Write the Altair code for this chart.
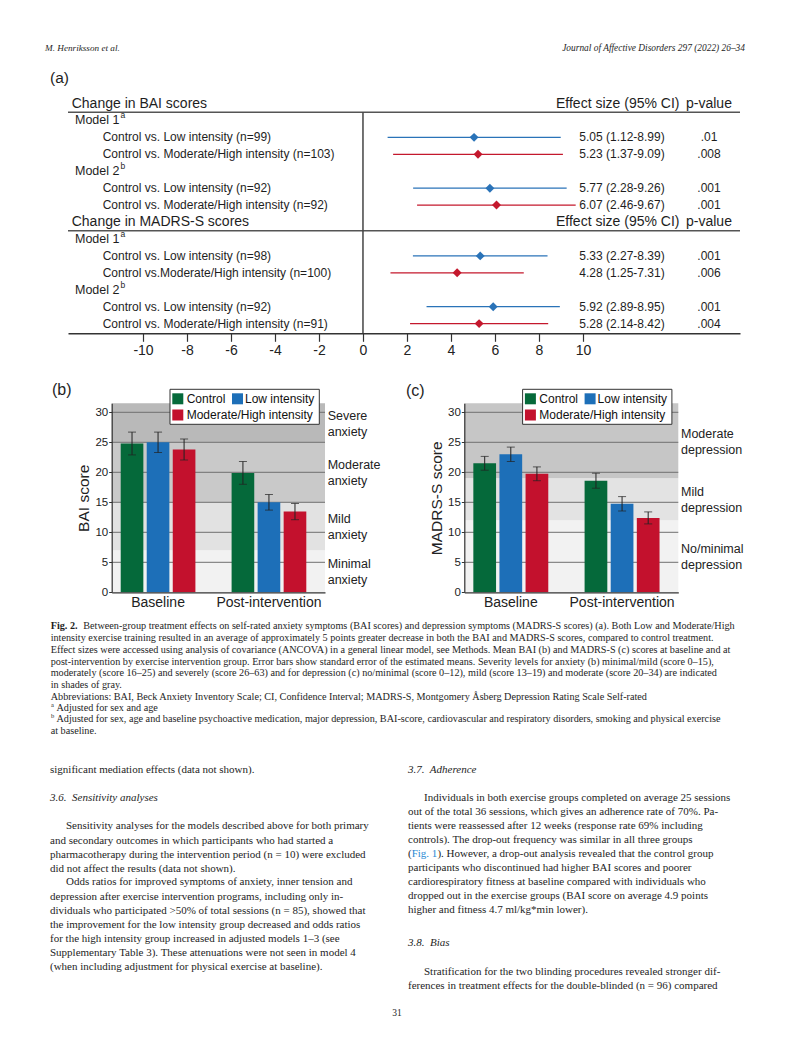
import altair as alt
import pandas as pd

# ======================= DATA =======================
row_ids = ["r1", "r2", "r3", "r4", "r5", "r6", "r7", "r8"]
row_labels = [
    "Control vs. Low intensity (n=99)",
    "Control vs. Moderate/High intensity (n=103)",
    "Control vs. Low intensity (n=92)",
    "Control vs. Moderate/High intensity (n=92)",
    "Control vs. Low intensity (n=98)",
    "Control vs.Moderate/High intensity (n=100)",
    "Control vs. Low intensity (n=92)",
    "Control vs. Moderate/High intensity (n=91)",
]
row_comparison = ["Low intensity", "Moderate/High intensity"] * 4
effect_size = [5.05, 5.23, 5.77, 6.07, 5.33, 4.28, 5.92, 5.28]
ci_lower = [1.12, 1.37, 2.28, 2.46, 2.27, 1.25, 2.89, 2.14]
ci_upper = [8.99, 9.09, 9.26, 9.67, 8.39, 7.31, 8.95, 8.42]
p_values = [".01", ".008", ".001", ".001", ".001", ".006", ".001", ".004"]

section_ids = ["h1", "h2"]
section_titles = ["Change in BAI scores", "Change in MADRS-S scores"]
model_ids = ["m1a", "m2a", "m1b", "m2b"]
model_names = ["Model 1", "Model 2", "Model 1", "Model 2"]
model_notes = ["a", "b", "a", "b"]
line_order = ["h1", "m1a", "r1", "r2", "m2a", "r3", "r4",
              "h2", "m1b", "r5", "r6", "m2b", "r7", "r8"]
effect_ticks = [-10, -8, -6, -4, -2, 0, 2, 4, 6, 8, 10]
comparisons = ["Low intensity", "Moderate/High intensity"]

groups = ["Control", "Low intensity", "Moderate/High intensity"]
timepoints = ["Baseline", "Post-intervention"]
bai_mean = [24.8, 25.0, 23.8, 19.9, 15.0, 13.45]
bai_se = [1.9, 1.7, 1.75, 1.9, 1.3, 1.35]
madrs_mean = [21.5, 23.0, 19.75, 18.6, 14.75, 12.4]
madrs_se = [1.15, 1.2, 1.15, 1.25, 1.2, 1.0]
bai_levels = ["Minimal\nanxiety", "Mild\nanxiety", "Moderate\nanxiety", "Severe\nanxiety"]
bai_cuts = [0, 7, 15, 25]
madrs_levels = ["No/minimal\ndepression", "Mild\ndepression", "Moderate\ndepression"]
madrs_cuts = [0, 12, 19]
score_ticks = [0, 5, 10, 15, 20, 25, 30]

header_left = "M. Henriksson et al."
header_right = "Journal of Affective Disorders 297 (2022) 26\u201334"
caption_label = "Fig. 2."
caption_first = ("Between-group treatment effects on self-rated anxiety symptoms (BAI scores) and "
                 "depression symptoms (MADRS-S scores) (a). Both Low and Moderate/High")
caption_lines = [
    "intensity exercise training resulted in an average of approximately 5 points greater decrease in both the BAI and MADRS-S scores, compared to control treatment.",
    "Effect sizes were accessed using analysis of covariance (ANCOVA) in a general linear model, see Methods. Mean BAI (b) and MADRS-S (c) scores at baseline and at",
    "post-intervention by exercise intervention group. Error bars show standard error of the estimated means. Severity levels for anxiety (b) minimal/mild (score 0\u201315),",
    "moderately (score 16\u201325) and severely (score 26\u201363) and for depression (c) no/minimal (score 0\u201312), mild (score 13\u201319) and moderate (score 20\u201334) are indicated",
    "in shades of gray.",
    "Abbreviations: BAI, Beck Anxiety Inventory Scale; CI, Confidence Interval; MADRS-S, Montgomery \u00c5sberg Depression Rating Scale Self-rated",
]
note_marks = ["a", "b"]
note_texts = [
    "Adjusted for sex and age",
    "Adjusted for sex, age and baseline psychoactive medication, major depression, BAI-score, cardiovascular and respiratory disorders, smoking and physical exercise",
]
note_tail = "at baseline."

left_lead = "significant mediation effects (data not shown)."
left_heading = "3.6.\u00a0 Sensitivity analyses"
left_p1 = [
    "Sensitivity analyses for the models described above for both primary",
    "and secondary outcomes in which participants who had started a",
    "pharmacotherapy during the intervention period (n = 10) were excluded",
    "did not affect the results (data not shown).",
]
left_p2 = [
    "Odds ratios for improved symptoms of anxiety, inner tension and",
    "depression after exercise intervention programs, including only in-",
    "dividuals who participated >50% of total sessions (n = 85), showed that",
    "the improvement for the low intensity group decreased and odds ratios",
    "for the high intensity group increased in adjusted models 1\u20133 (see",
    "Supplementary Table 3). These attenuations were not seen in model 4",
    "(when including adjustment for physical exercise at baseline).",
]
right_heading1 = "3.7.\u00a0 Adherence"
right_p1_a = [
    "Individuals in both exercise groups completed on average 25 sessions",
    "out of the total 36 sessions, which gives an adherence rate of 70%. Pa-",
    "tients were reassessed after 12 weeks (response rate 69% including",
    "controls). The drop-out frequency was similar in all three groups",
]
right_p1_link = ["(", "Fig. 1", "). However, a drop-out analysis revealed that the control group"]
right_p1_b = [
    "participants who discontinued had higher BAI scores and poorer",
    "cardiorespiratory fitness at baseline compared with individuals who",
    "dropped out in the exercise groups (BAI score on average 4.9 points",
    "higher and fitness 4.7 ml/kg*min lower).",
]
right_heading2 = "3.8.\u00a0 Bias"
right_p2 = [
    "Stratification for the two blinding procedures revealed stronger dif-",
    "ferences in treatment effects for the double-blinded (n = 96) compared",
]
page_number = "31"

# ======================= STYLE / LAYOUT =======================
W, H = 777, 1040
SANS = "Liberation Sans"
SERIF = "Liberation Serif"
TXT = "#1e1e1e"
F_BLUE, F_RED = "#2a73b8", "#c4182d"
BAR_COLORS = ["#05693a", "#1d6fb8", "#c3112d"]
BAI_SHADES = ["#f2f2f2", "#e2e2e2", "#c9c9c9", "#b9b9b9"]
MADRS_SHADES = ["#f2f2f2", "#e3e3e3", "#c6c6c6"]

X_MIN, X_MAX = -13.41, 17.14
FX0, FX1 = 60, 732
FY0, FY1 = 95.5, 315.6
F_AXIS_Y = 325.3
Y_TOP = 31.5
BY0, BY1 = 584.3, 395.3
B_X = (103.7, 317.0)
C_X = (456.3, 670.3)
LEG_ROWS = (390.8, 407.0)
LEG_BOX = (58.3, 207.6, 381.3, 416.3)
LEG_SQ_DX = [66.1, 125.8, 66.1]
LEG_TX_DX = [75.0, 133.3, 75.0]
LEG_ROW = [0, 0, 1]


def one(text):
    return pd.DataFrame({"t": [text]})


def line(text, x, yc, size, font=SERIF, align="left", style="normal", weight="normal", color=TXT):
    return alt.Chart(one(text)).mark_text(
        align=align, baseline="middle", font=font, fontSize=size,
        fontStyle=style, fontWeight=weight, color=color,
    ).encode(x=alt.value(x), y=alt.value(yc), text="t:N")


def block(lines, x, yc_first, size, lh, font=SERIF, style="normal"):
    return alt.Chart(one("\n".join(lines))).mark_text(
        align="left", baseline="top", font=font, fontSize=size, fontStyle=style,
        lineBreak="\n", lineHeight=lh, color=TXT,
    ).encode(x=alt.value(x), y=alt.value(yc_first - 0.49 * size), text="t:N")


# ======================= (a) FOREST =======================
fdf = pd.DataFrame({
    "slot": row_ids, "label": row_labels, "cmp": row_comparison,
    "es": effect_size, "lo": ci_lower, "hi": ci_upper, "p": p_values,
})
fdf["es_txt"] = [f"{e:.2f} ({l:.2f}-{h:.2f})" for e, l, h in zip(effect_size, ci_lower, ci_upper)]
sdf = pd.DataFrame({"slot": section_ids, "title": section_titles})
mdf = pd.DataFrame({"slot": model_ids, "name": model_names, "note": model_notes})

fx = alt.Scale(domain=[X_MIN, X_MAX], range=[FX0, FX1], nice=False, zero=False)
fy = alt.Scale(type="point", domain=line_order, range=[FY0, FY1], padding=0)
fc = alt.Scale(domain=comparisons, range=[F_BLUE, F_RED])
Yslot = alt.Y("slot:N", scale=fy, axis=None)

forest = [
    alt.Chart(sdf).mark_rule(color="#555", strokeWidth=1.5, yOffset=8.7).encode(
        x=alt.X(datum=X_MIN, type="quantitative", scale=fx, axis=None),
        x2=alt.X2(datum=X_MAX), y=Yslot),
    alt.Chart(one("0")).mark_rule(color="#444", strokeWidth=1.5).encode(
        x=alt.X(datum=0, type="quantitative", scale=fx, axis=None),
        y=alt.value(FY0 + 8.7), y2=alt.value(F_AXIS_Y)),
    alt.Chart(fdf).mark_rule(strokeWidth=1.2).encode(
        x=alt.X("lo:Q", scale=fx, axis=alt.Axis(
            orient="bottom", offset=-(H - F_AXIS_Y), values=effect_ticks, title=None, grid=False,
            tickSize=8, tickColor="#333", tickWidth=1.2, domainColor="#333", domainWidth=1.5,
            labelFont=SANS, labelFontSize=14, labelColor="#222", labelPadding=2, zindex=1,
            labelExpr="'' + datum.value")),
        x2="hi:Q", y=Yslot,
        color=alt.Color("cmp:N", scale=fc, legend=None)),
    alt.Chart(fdf).mark_point(shape="diamond", filled=True, size=80, opacity=1).encode(
        x=alt.X("es:Q", scale=fx, axis=None),
        y=Yslot, color=alt.Color("cmp:N", scale=fc, legend=None)),
    alt.Chart(fdf).mark_text(align="left", baseline="middle", font=SANS, fontSize=12, color=TXT).encode(
        x=alt.value(94.7), y=Yslot, text="label:N"),
    alt.Chart(fdf).mark_text(align="left", baseline="middle", font=SANS, fontSize=12, color=TXT).encode(
        x=alt.value(571.3), y=Yslot, text="es_txt:N"),
    alt.Chart(fdf).mark_text(align="center", baseline="middle", font=SANS, fontSize=12, color=TXT).encode(
        x=alt.value(701), y=Yslot, text="p:N"),
    alt.Chart(mdf).mark_text(align="left", baseline="middle", font=SANS, fontSize=12.5, color=TXT).encode(
        x=alt.value(67), y=Yslot, text="name:N"),
    alt.Chart(mdf).mark_text(align="left", baseline="middle", font=SANS, fontSize=8.5, dy=-5, color=TXT).encode(
        x=alt.value(112.5), y=Yslot, text="note:N"),
    alt.Chart(sdf).mark_text(align="left", baseline="middle", font=SANS, fontSize=14, color=TXT).encode(
        x=alt.value(63.7), y=Yslot, text="title:N"),
    alt.Chart(sdf).mark_text(align="left", baseline="middle", font=SANS, fontSize=14, color=TXT,
                             text="Effect size (95% CI)").encode(x=alt.value(548), y=Yslot),
    alt.Chart(sdf).mark_text(align="left", baseline="middle", font=SANS, fontSize=14, color=TXT,
                             text="p-value").encode(x=alt.value(678), y=Yslot),
]


# ======================= (b), (c) BARS =======================
def bar_panel(means, ses, levels, cuts, shades, x_range, y_title, label_x):
    df = pd.DataFrame({
        "time": [t for t in timepoints for _ in groups],
        "group": groups * len(timepoints),
        "mean": means, "se": ses,
    })
    df["lo"] = df["mean"] - df["se"]
    df["hi"] = df["mean"] + df["se"]
    bands = pd.DataFrame({"level": levels, "lo": cuts, "hi": cuts[1:] + [Y_TOP]})
    grid = pd.DataFrame({"v": score_ticks[1:]})

    xs = alt.Scale(domain=timepoints, range=list(x_range), paddingInner=0.3264,
                   paddingOuter=0.1249, align=0.325)
    ys = alt.Scale(domain=[0, Y_TOP], range=[BY0, BY1], nice=False, zero=False)
    xo = alt.Scale(domain=groups, paddingInner=0.13, paddingOuter=0)
    cs = alt.Scale(domain=groups, range=BAR_COLORS)
    Xn = alt.X("time:N", scale=xs, axis=None)
    Xo = alt.XOffset("group:N", scale=xo)
    x0 = x_range[0]

    layers = [
        alt.Chart(bands).mark_rect().encode(
            x=alt.value(x_range[0]), x2=alt.value(x_range[1]),
            y=alt.Y("lo:Q", scale=ys, axis=None), y2="hi:Q",
            fill=alt.Fill("level:N", scale=alt.Scale(domain=levels, range=shades), legend=None)),
        alt.Chart(grid).mark_rule(color="#707070", strokeWidth=1).encode(
            x=alt.value(x_range[0]), x2=alt.value(x_range[1]),
            y=alt.Y("v:Q", scale=ys, axis=None)),
        alt.Chart(df).mark_bar().encode(
            x=alt.X("time:N", scale=xs, axis=alt.Axis(
                orient="bottom", offset=-(H - BY0), title=None, ticks=False, tickSize=0,
                labelPadding=3, labelAngle=0, labelFont=SANS, labelFontSize=14, labelColor="#222",
                domainColor="#333", domainWidth=1.2, zindex=1)),
            xOffset=Xo,
            y=alt.Y("mean:Q", scale=ys, axis=alt.Axis(
                orient="left", offset=-x0, values=score_ticks, title=y_title, grid=False,
                tickSize=3, tickColor="#333", domainColor="#333", domainWidth=1.2,
                labelFont=SANS, labelFontSize=11.5, labelColor="#222", labelPadding=1,
                titleFont=SANS, titleFontSize=15.5, titleFontWeight="normal", titleColor="#222",
                titlePadding=3, zindex=1)),
            color=alt.Color("group:N", scale=cs, legend=None)),
        alt.Chart(df).mark_rule(color="#222", strokeWidth=1).encode(
            x=Xn, xOffset=Xo, y=alt.Y("lo:Q", scale=ys, axis=None), y2="hi:Q"),
        alt.Chart(df).mark_tick(color="#222", thickness=1, size=8, orient="horizontal").encode(
            x=Xn, xOffset=Xo, y=alt.Y("lo:Q", scale=ys, axis=None)),
        alt.Chart(df).mark_tick(color="#222", thickness=1, size=8, orient="horizontal").encode(
            x=Xn, xOffset=Xo, y=alt.Y("hi:Q", scale=ys, axis=None)),
        alt.Chart(bands).transform_calculate(
            mid="(datum.lo + datum.hi) / 2"
        ).mark_text(align="left", baseline="top", lineBreak="\n", lineHeight=16, font=SANS,
                    fontSize=12.5, dy=-13, color="#222").encode(
            x=alt.value(label_x), y=alt.Y("mid:Q", scale=ys, axis=None), text="level:N"),
        alt.Chart(one("legend")).mark_rect(fill="white", stroke="#333", strokeWidth=1).encode(
            x=alt.value(x0 + LEG_BOX[0]), x2=alt.value(x0 + LEG_BOX[1]),
            y=alt.value(LEG_BOX[2]), y2=alt.value(LEG_BOX[3])),
    ]
    for i, g in enumerate(groups):
        gdf = pd.DataFrame({"group": [g]})
        ly = LEG_ROWS[LEG_ROW[i]]
        layers.append(alt.Chart(gdf).mark_square(size=121, opacity=1).encode(
            x=alt.value(x0 + LEG_SQ_DX[i]), y=alt.value(ly),
            color=alt.Color("group:N", scale=cs, legend=None)))
        layers.append(alt.Chart(gdf).mark_text(align="left", baseline="middle", font=SANS,
                                               fontSize=12, color="#111").encode(
            x=alt.value(x0 + LEG_TX_DX[i]), y=alt.value(ly), text="group:N"))
    return layers


panel_b = bar_panel(bai_mean, bai_se, bai_levels, bai_cuts, BAI_SHADES, B_X, "BAI score", 319.7)
panel_c = bar_panel(madrs_mean, madrs_se, madrs_levels, madrs_cuts, MADRS_SHADES, C_X,
                    "MADRS-S score", 673)

# ======================= PAGE TEXT =======================
cap_fs, cap_lh = 10.2, 11.67
body_fs, body_lh = 11, 14
texts = [
    line(header_left, 37, 40, 9.2, style="italic"),
    line(header_right, 737, 40, 9.4, align="right", style="italic"),
    line("(a)", 42, 70, 15.5, font=SANS),
    line("(b)", 44, 382, 16, font=SANS),
    line("(c)", 398, 383, 16, font=SANS),
    line(caption_label, 42.7, 618, cap_fs, weight="bold"),
    line(caption_first, 75.3, 618, cap_fs),
    block(caption_lines, 42.7, 630.3, cap_fs, cap_lh),
    line(note_marks[0], 43, 696.5, 6.5),
    line(note_texts[0], 48.5, 699.7, cap_fs),
    line(note_marks[1], 43, 708, 6.5),
    line(note_texts[1], 48.5, 711, cap_fs),
    line(note_tail, 42.7, 723, cap_fs),
    line(left_lead, 42, 762, body_fs),
    line(left_heading, 42, 790.3, body_fs, style="italic"),
    line(left_p1[0], 58, 818, body_fs),
    block(left_p1[1:], 42, 818 + body_lh, body_fs, body_lh),
    line(left_p2[0], 58, 818 + 4 * body_lh, body_fs),
    block(left_p2[1:], 42, 818 + 5 * body_lh, body_fs, body_lh),
    line(right_heading1, 400, 762, body_fs, style="italic"),
    line(right_p1_a[0], 416, 789.7, body_fs),
    block(right_p1_a[1:], 400, 789.7 + body_lh, body_fs, body_lh),
    line(right_p1_link[0], 400, 789.7 + 4 * body_lh, body_fs),
    line(right_p1_link[1], 403.7, 789.7 + 4 * body_lh, body_fs, color="#2a8ad4"),
    line(right_p1_link[2], 429.4, 789.7 + 4 * body_lh, body_fs),
    block(right_p1_b, 400, 789.7 + 5 * body_lh, body_fs, body_lh),
    line(right_heading2, 400, 935.3, body_fs, style="italic"),
    line(right_p2[0], 416, 963.7, body_fs),
    line(right_p2[1], 400, 963.7 + body_lh, body_fs),
    line(page_number, 389, 1004.7, 9.5, align="center"),
]

chart = alt.layer(*texts, *forest, *panel_b, *panel_c).resolve_scale(
    x="independent", y="independent", color="independent", fill="independent", xOffset="independent"
).resolve_axis(x="independent", y="independent").properties(
    width=W, height=H, padding=0, autosize=alt.AutoSizeParams(type="none"), background="white"
).configure_view(strokeWidth=0)

chart.save("out.html", embed_options={"renderer": "svg", "actions": False})
